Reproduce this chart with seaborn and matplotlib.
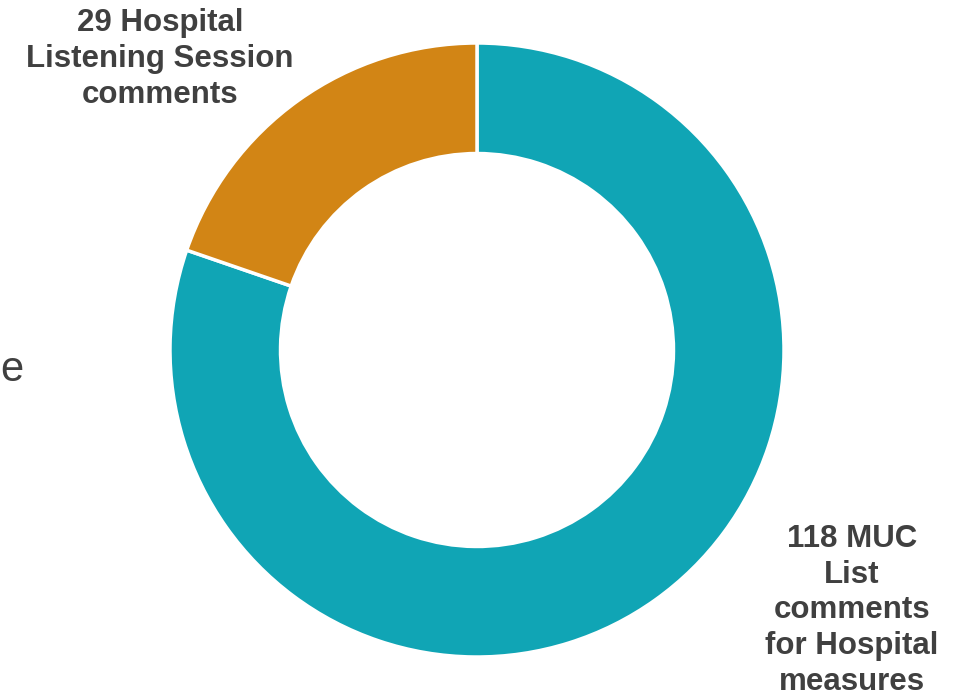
import seaborn as sns
import matplotlib
matplotlib.use("Agg")
import matplotlib.pyplot as plt

# comment counts, drawn clockwise from 12 o'clock
categories = ["118 MUC\nList\ncomments\nfor Hospital\nmeasures",
              "29 Hospital\nListening Session\ncomments"]
counts = [118, 29]
colors = ["#10A5B5", "#D28515"]

sns.set_theme(style="white")
plt.rcParams["font.family"] = ["Liberation Sans", "DejaVu Sans"]

fig = plt.figure(figsize=(9.7, 6.97), dpi=100)
W, H = 970, 697

# donut placed in pixel space: centre (477, 350), radius ~307
cx, cy, r = 477, 350, 307
ax = fig.add_axes([(cx - r) / W, (H - cy - r) / H, 2 * r / W, 2 * r / H])
ax.pie(counts, colors=colors, startangle=90, counterclock=False, radius=1,
       wedgeprops=dict(width=0.36, edgecolor="white", linewidth=2.5))
ax.set_xlim(-1, 1)
ax.set_ylim(-1, 1)
ax.set_aspect("equal")
ax.axis("off")

txt = "#404040"
fig.text(160 / W, 1 - 8 / H, categories[1], ha="center", va="top",
         fontsize=22.5, fontweight="bold", color=txt, linespacing=1.27)
fig.text(852 / W, 1 - 524 / H, categories[0], ha="center", va="top",
         fontsize=22.5, fontweight="bold", color=txt, linespacing=1.25)

# fragment of a cut-off slide text at the left edge
fig.text(0, 1 - 370 / H, "e", ha="left", va="center",
         fontsize=30, color=txt)

fig.savefig("out.png", dpi=100, facecolor="white")
